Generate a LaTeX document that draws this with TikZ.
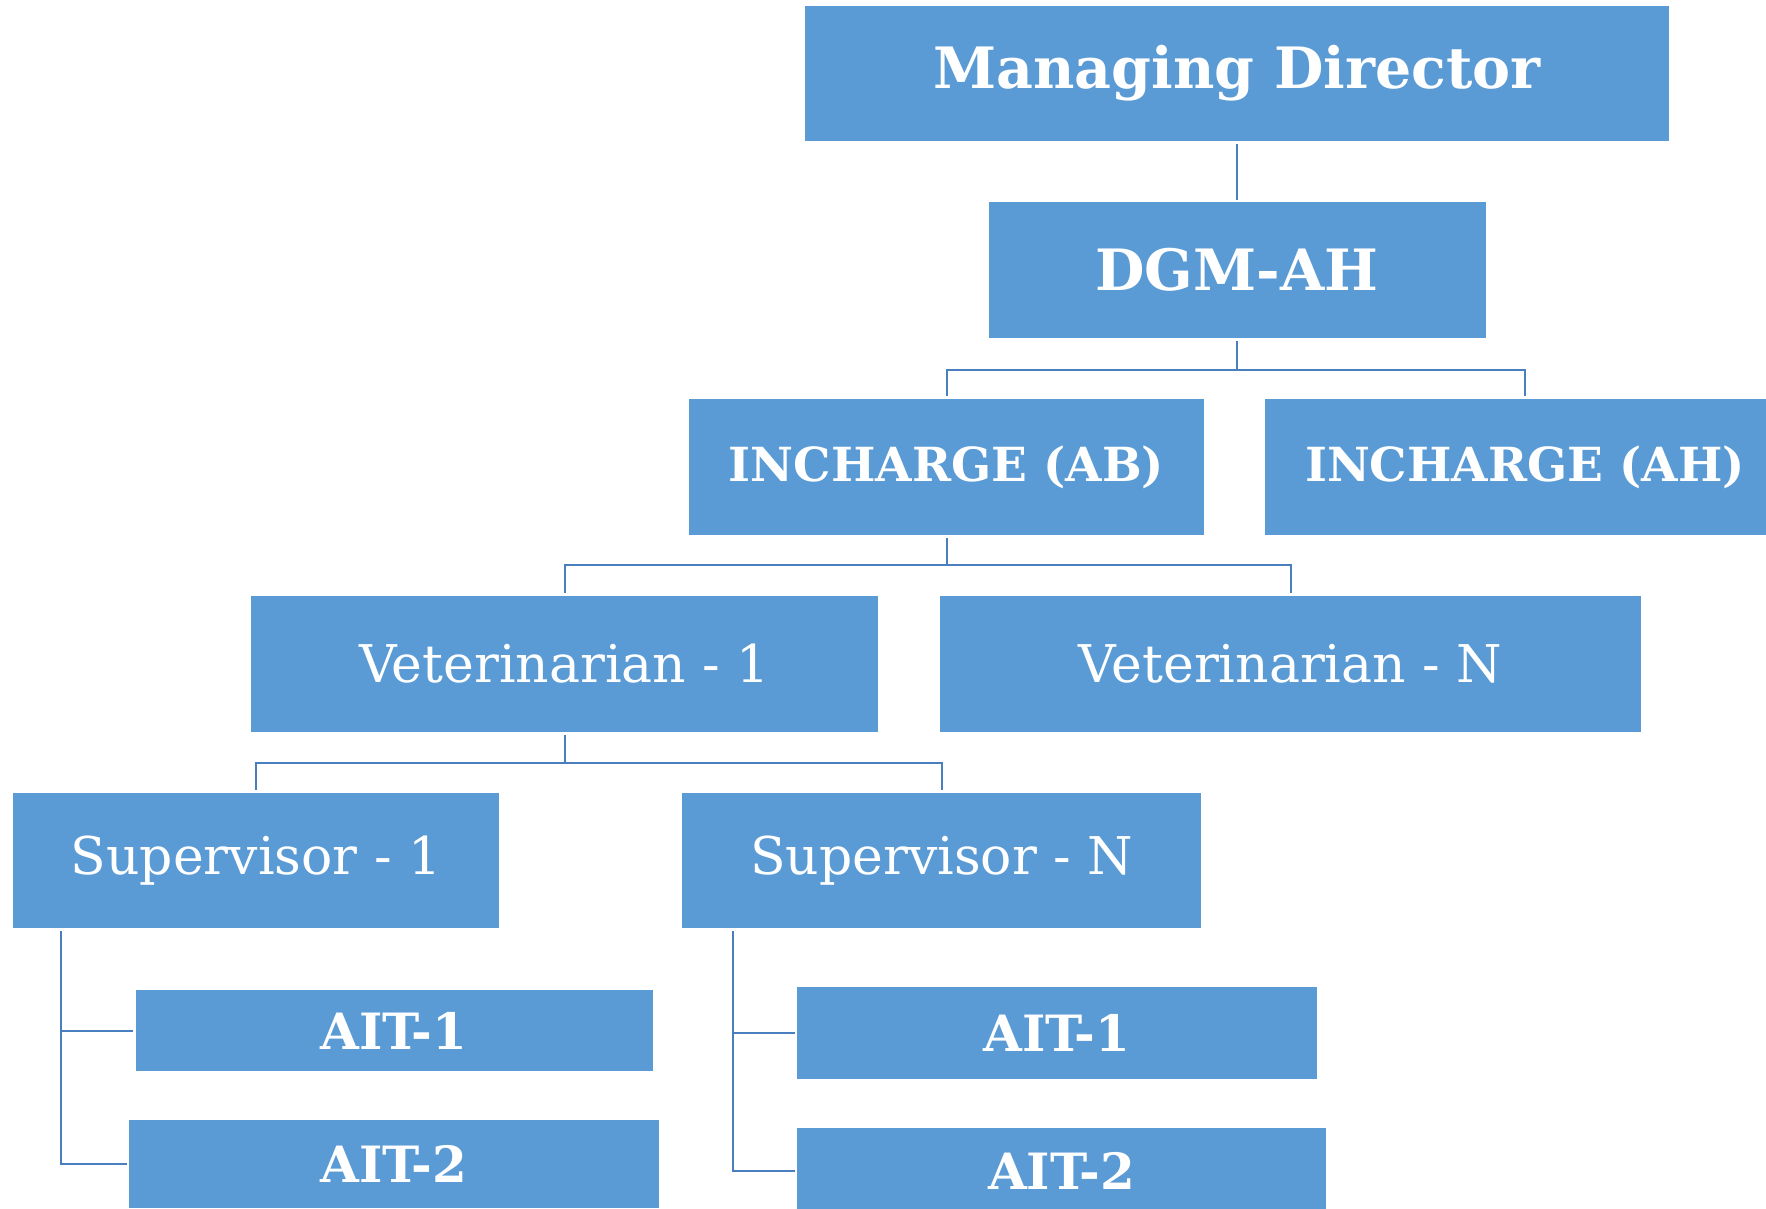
\documentclass[tikz,border=0pt]{standalone}
\usepackage{fontspec}
\setmainfont{DejaVu Serif}
\definecolor{boxblue}{HTML}{5B9BD5}
\definecolor{lineblue}{HTML}{4A7FBF}
\tikzset{
  box/.style={fill=boxblue, draw=none, text=white, inner sep=0pt, anchor=center},
  bigbold/.style={box, font=\fontsize{57}{63}\selectfont\bfseries},
  midbold/.style={box, font=\fontsize{47}{53}\selectfont\bfseries},
  aitbold/.style={box, font=\fontsize{50}{56}\selectfont\bfseries},
  midreg/.style={box, font=\fontsize{52}{58}\selectfont},
  conn/.style={draw=lineblue, line width=2pt}
}
\begin{document}
\begin{tikzpicture}[x=1pt,y=-1pt]
\useasboundingbox (0,0) rectangle (1766,1208);
\clip (0,0) rectangle (1766,1208);
% nodes
\node[bigbold, minimum width=864pt, minimum height=135pt] (md) at (1237,73.5) {Managing Director};
\node[bigbold, minimum width=497pt, minimum height=136pt] (dgm) at (1237,270) {DGM-AH};
\node[midbold, minimum width=515pt, minimum height=136pt] (incab) at (946.5,467) {INCHARGE (AB)};
\node[midbold, minimum width=520pt, minimum height=136pt] (incah) at (1525,467) {INCHARGE (AH)};
\node[midreg, minimum width=627pt, minimum height=136pt] (vet1) at (564.5,664) {Veterinarian - 1};
\node[midreg, minimum width=701pt, minimum height=136pt] (vetn) at (1290.5,664) {Veterinarian - N};
\node[midreg, minimum width=486pt, minimum height=135pt] (sup1) at (256,860.5) {Supervisor - 1};
\node[midreg, minimum width=519pt, minimum height=135pt] (supn) at (941.5,860.5) {Supervisor - N};
\node[aitbold, minimum width=517pt, minimum height=81pt] (aitla) at (394,1030.5) {AIT-1};
\node[aitbold, minimum width=530pt, minimum height=88pt] (aitlb) at (394,1164) {AIT-2};
\node[aitbold, minimum width=520pt, minimum height=92pt] (aitra) at (1057,1033) {AIT-1};
\node[aitbold, minimum width=529pt, minimum height=86pt] (aitrb) at (1061.5,1171) {AIT-2};
% connectors
\draw[conn] ([yshift=-3pt]md.south) -- ([yshift=2pt]dgm.north);
\draw[conn] ([yshift=-3pt]dgm.south) -- ++(0,29) -| ([yshift=3pt]incab.north);
\draw[conn] ([yshift=-3pt]dgm.south) -- ++(0,29) -| ([yshift=3pt]incah.north);
\draw[conn] ([yshift=-3pt]incab.south) -- ++(0,27) -| ([yshift=3pt]vet1.north);
\draw[conn] ([yshift=-3pt]incab.south) -- ++(0,27) -| ([yshift=3pt]vetn.north);
\draw[conn] ([yshift=-3pt]vet1.south) -- ++(0,27.5) -| ([yshift=3pt]sup1.north);
\draw[conn] ([yshift=-3pt]vet1.south) -- ++(0,27.5) -| ([yshift=3pt]supn.north);
\coordinate (s1) at ([xshift=48pt,yshift=-3pt]sup1.south west);
\coordinate (sn) at ([xshift=51pt,yshift=-3pt]supn.south west);
\draw[conn] (s1) |- ([xshift=-2pt]aitla.west);
\draw[conn] (s1) |- ([xshift=-2pt]aitlb.west);
\draw[conn] (sn) |- ([xshift=-2pt]aitra.west);
\draw[conn] (sn) |- ([xshift=-2pt]aitrb.west);
\end{tikzpicture}
\end{document}
